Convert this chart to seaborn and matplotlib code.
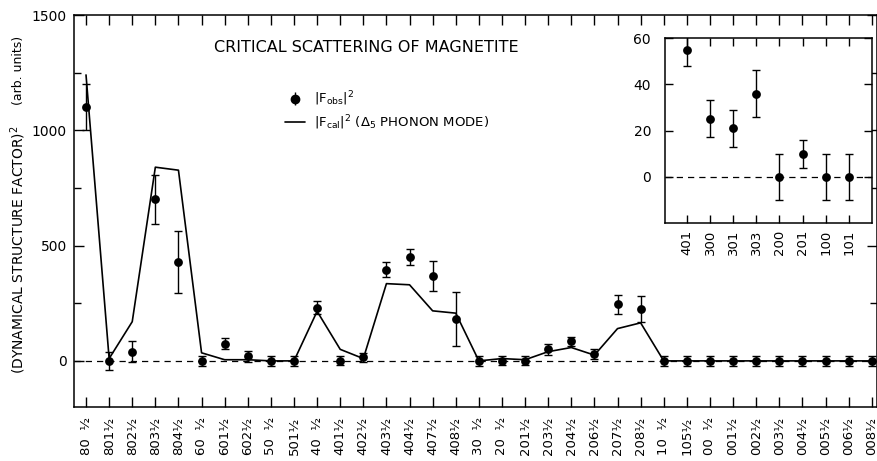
import matplotlib
matplotlib.use("Agg")
import numpy as np
import pandas as pd
import seaborn as sns
import matplotlib.pyplot as plt
from matplotlib.lines import Line2D
from matplotlib.ticker import MultipleLocator

# ---------------- data ----------------
FS = "\u2007"
main_labels = ["80" + FS + "½", "801½", "802½", "803½", "804½",
               "60" + FS + "½", "601½", "602½", "50" + FS + "½", "501½",
               "40" + FS + "½", "401½", "402½", "403½", "404½", "407½", "408½",
               "30" + FS + "½", "20" + FS + "½", "201½", "203½", "204½", "206½",
               "207½", "208½", "10" + FS + "½", "105½", "00" + FS + "½", "001½",
               "002½", "003½", "004½", "005½", "006½", "008½"]
obs_values = [1100, 0, 40, 700, 430, 0, 75, 20, 0, 0, 230, 0, 15, 395, 450, 370,
              180, 0, 0, 0, 50, 85, 30, 245, 225, 0, 0, 0, 0, 0, 0, 0, 0, 0, 0]
obs_errors = [100, 40, 45, 105, 135, 22, 25, 25, 22, 22, 28, 20, 20, 32, 35, 65,
              117, 22, 20, 20, 24, 20, 20, 40, 57, 22, 22, 22, 22, 22, 22, 22, 22, 22, 22]
calc_values = [1240, 10, 170, 840, 827, 35, 5, 5, 0, 0, 215, 50, 10, 335, 330, 217,
               207, 0, 10, 5, 40, 58, 25, 140, 165, 0, 0, 0, 0, 0, 0, 0, 0, 0, 0]

inset_labels = ["401", "300", "301", "303", "200", "201", "100", "101"]
inset_values = [55, 25, 21, 36, 0, 10, 0, 0]
inset_errors = [7, 8, 8, 10, 10, 6, 10, 10]

main_df = pd.DataFrame({"pos": np.arange(len(main_labels)), "label": main_labels,
                        "obs": obs_values, "err": obs_errors, "calc": calc_values})
inset_df = pd.DataFrame({"pos": np.arange(len(inset_labels)), "label": inset_labels,
                         "obs": inset_values, "err": inset_errors})

# ---------------- style ----------------
sns.set_theme(style="ticks")
plt.rcParams["font.family"] = ["DejaVu Sans"]
plt.rcParams["mathtext.fontset"] = "dejavusans"
plt.rcParams["axes.linewidth"] = 1.1
for key in ["text.color", "axes.labelcolor", "xtick.color", "ytick.color",
            "axes.edgecolor", "legend.labelcolor"]:
    plt.rcParams[key] = "black"

W, H = 878, 461
fig = plt.figure(figsize=(W / 100, H / 100), dpi=100)
fig.patch.set_facecolor("white")

ax = fig.add_axes([74 / W, 1 - 407 / H, (877.5 - 74) / W, (407 - 15) / H])
ax.set_facecolor("white")

sns.lineplot(data=main_df, x="pos", y="calc", ax=ax, color="black", lw=1.2,
             estimator=None, sort=False, zorder=3)
ax.errorbar(main_df["pos"], main_df["obs"], yerr=main_df["err"], fmt="none",
            ecolor="black", elinewidth=1.0, capsize=3, capthick=1.0, zorder=4)
sns.scatterplot(data=main_df, x="pos", y="obs", ax=ax, color="black", s=40,
                edgecolor="black", linewidth=0, zorder=5)
ax.axhline(0, color="black", lw=0.9, ls=(0, (5, 4)), zorder=2)

ax.set_xlim(-0.52, 34.25)
ax.set_ylim(-200, 1500)
ax.set_xticks(main_df["pos"])
ax.set_xticklabels(main_df["label"], rotation=90, fontsize=9.5)
ax.set_yticks([0, 500, 1000, 1500])
ax.set_yticklabels(["0", "500", "1000", "1500"], fontsize=10)
ax.yaxis.set_minor_locator(MultipleLocator(250))
ax.tick_params(axis="x", direction="in", top=True, bottom=True, length=7,
               width=1.0, pad=7, colors="black")
ax.tick_params(axis="y", which="major", direction="in", left=True, right=True,
               length=7, width=1.0, pad=5, colors="black")
ax.tick_params(axis="y", which="minor", direction="in", left=True, right=True,
               length=5, width=1.0, colors="black")
ax.set_xlabel("")
ax.set_ylabel("")
for sp in ax.spines.values():
    sp.set_color("black")

fig.text(18 / W, 1 - 250 / H, "(DYNAMICAL STRUCTURE FACTOR)$^2$", rotation=90,
         ha="center", va="center", fontsize=10, color="black")
fig.text(19 / W, 1 - 70 / H, "(arb. units)", rotation=90, ha="center",
         va="center", fontsize=9, color="black")

fig.text(366 / W, 1 - 47 / H, "CRITICAL SCATTERING OF MAGNETITE", ha="center",
         va="center", fontsize=11.5, color="black")

obs_handle = ax.errorbar([], [], yerr=[], fmt="o", color="black", ms=6,
                         capsize=3, elinewidth=1.0)
cal_handle = Line2D([], [], color="black", lw=1.2)
ax.legend(handles=[obs_handle, cal_handle],
          labels=[r"$|\mathrm{F_{obs}}|^2$",
                  r"$|\mathrm{F_{cal}}|^2$ ($\Delta_5$ PHONON MODE)"],
          loc="upper left", bbox_to_anchor=(273 / W, 1 - 78 / H),
          bbox_transform=fig.transFigure, frameon=False, fontsize=9.5,
          handlelength=1.5, handletextpad=0.7, labelspacing=0.38,
          labelcolor="black")

# ---------------- inset ----------------
ins = fig.add_axes([665 / W, 1 - 223 / H, (872 - 665) / W, (223 - 38) / H])
ins.set_facecolor("white")
ins.set_zorder(10)
ins.errorbar(inset_df["pos"], inset_df["obs"], yerr=inset_df["err"], fmt="none",
             ecolor="black", elinewidth=1.0, capsize=3, capthick=1.0, zorder=4)
sns.scatterplot(data=inset_df, x="pos", y="obs", ax=ins, color="black", s=40,
                edgecolor="black", linewidth=0, zorder=5)
ins.axhline(0, color="black", lw=0.9, ls=(0, (5, 4)), zorder=2)
ins.set_xlim(-0.95, 8.0)
ins.set_ylim(-20, 60)
ins.set_xticks(inset_df["pos"])
ins.set_xticklabels(inset_df["label"], rotation=90, fontsize=9.5)
ins.set_yticks([0, 20, 40, 60])
ins.set_yticklabels(["0", "20", "40", "60"], fontsize=10)
ins.tick_params(axis="x", direction="in", top=True, bottom=True, length=5.5,
                width=1.0, pad=5, colors="black")
ins.tick_params(axis="y", direction="in", left=True, right=True, length=5.5,
                width=1.0, pad=10, colors="black")
ins.set_xlabel("")
ins.set_ylabel("")
for sp in ins.spines.values():
    sp.set_color("black")

fig.savefig("out.png", dpi=100, facecolor="white")
